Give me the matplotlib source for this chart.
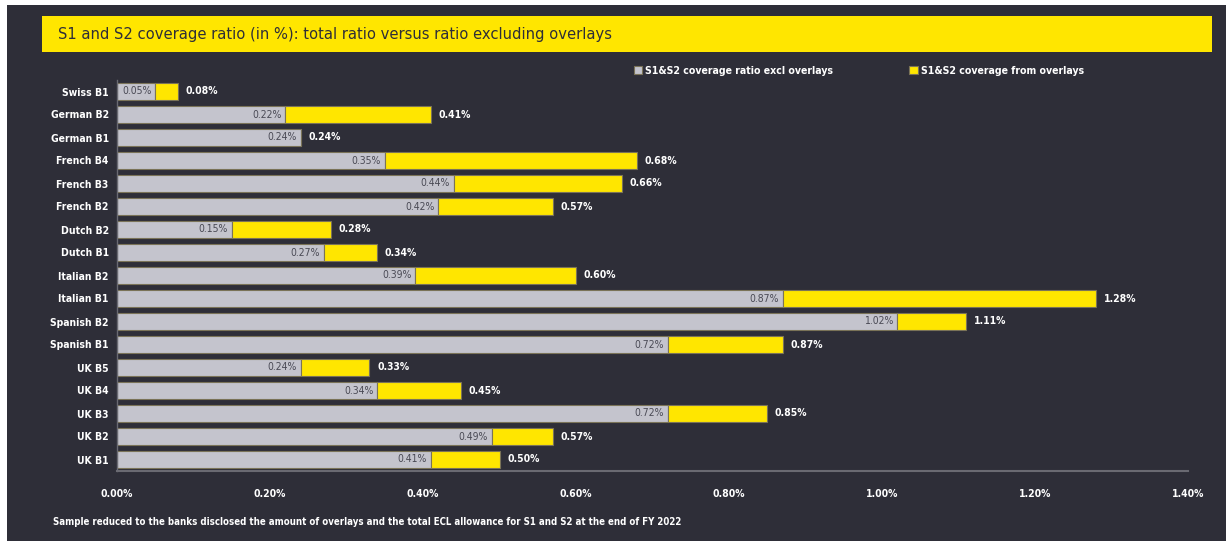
import matplotlib
matplotlib.use("Agg")
import matplotlib.pyplot as plt
import numpy as np
from matplotlib.patches import Rectangle

banks = ["Swiss B1", "German B2", "German B1", "French B4", "French B3", "French B2",
         "Dutch B2", "Dutch B1", "Italian B2", "Italian B1", "Spanish B2", "Spanish B1",
         "UK B5", "UK B4", "UK B3", "UK B2", "UK B1"]
excl_overlays = [0.05, 0.22, 0.24, 0.35, 0.44, 0.42, 0.15, 0.27, 0.39, 0.87, 1.02, 0.72,
                 0.24, 0.34, 0.72, 0.49, 0.41]
total_ratio = [0.08, 0.41, 0.24, 0.68, 0.66, 0.57, 0.28, 0.34, 0.60, 1.28, 1.11, 0.87,
               0.33, 0.45, 0.85, 0.57, 0.50]
x_ticks = [0.0, 0.2, 0.4, 0.6, 0.8, 1.0, 1.2, 1.4]

BG = "#2e2e38"
YEL = "#ffe600"
GREY = "#c4c4cd"
FONT = ["DejaVu Sans Condensed", "DejaVu Sans"]
plt.rcParams["font.family"] = FONT
plt.rcParams["font.stretch"] = "condensed"

excl = np.array(excl_overlays)
tot = np.array(total_ratio)
overlay = tot - excl
y = np.arange(len(banks))

fig = plt.figure(figsize=(12.26, 5.41), dpi=100, facecolor="white")
# dark panel, leaving thin white strip on top/left
fig.patches.append(Rectangle((7 / 1226, 0), 1, 1 - 5 / 541, transform=fig.transFigure,
                             facecolor=BG, edgecolor="none", zorder=-10))
# title box
fig.patches.append(Rectangle((42 / 1226, 1 - 52 / 541), (1212 - 42) / 1226, 36 / 541,
                             transform=fig.transFigure, facecolor=YEL, edgecolor="none", zorder=-5))
fig.text(58 / 1226, 1 - 34 / 541, "S1 and S2 coverage ratio (in %): total ratio versus ratio excluding overlays",
         color=BG, fontsize=11.8, va="center", ha="left")

ax = fig.add_axes([117 / 1226, 1 - 471 / 541, (1188 - 117) / 1226, (471 - 80) / 541])
ax.set_facecolor(BG)

ax.barh(y, excl, height=0.72, color=GREY, edgecolor="#7a7358", linewidth=0.8,
        label="S1&S2 coverage ratio excl overlays")
ax.barh(y, overlay, left=excl, height=0.72, color=YEL, edgecolor="#7a7358", linewidth=0.8,
        label="S1&S2 coverage from overlays")

for i in range(len(banks)):
    ax.text(excl[i] - 0.005, y[i], f"{excl[i]:.2f}%", ha="right", va="center",
            color="#4a4a55", fontsize=7.5)
    ax.text(tot[i] + 0.01, y[i], f"{tot[i]:.2f}%", ha="left", va="center",
            color="white", fontsize=7.5, fontweight="bold")

ax.set_ylim(len(banks) - 0.5, -0.5)
ax.set_xlim(0, 1.4)
ax.set_yticks(y)
ax.set_yticklabels(banks, color="white", fontsize=7.5, fontweight="bold")
ax.set_xticks(x_ticks)
ax.set_xticklabels([f"{v:.2f}%" for v in x_ticks], color="white", fontsize=7.5, fontweight="bold")
ax.tick_params(axis="both", length=0)
ax.tick_params(axis="x", pad=13)
ax.tick_params(axis="y", pad=6)
for s in ["top", "right"]:
    ax.spines[s].set_visible(False)
ax.spines["bottom"].set_color("#6a6a72")
ax.spines["bottom"].set_linewidth(1.5)
ax.spines["left"].set_color("#6a6a72")
ax.spines["left"].set_linewidth(1)

leg = fig.legend(loc="center left", bbox_to_anchor=(624 / 1226, 1 - 71 / 541), ncol=2,
                 frameon=False, handlelength=0.8, handleheight=0.8, handletextpad=0.3,
                 columnspacing=7.2, prop={"size": 7.6, "weight": "bold", "family": FONT,
                                          "stretch": "condensed"})
for t in leg.get_texts():
    t.set_color("white")

fig.text(53 / 1226, 1 - 522 / 541,
         "Sample reduced to the banks disclosed the amount of overlays and the total ECL allowance for S1 and S2 at the end of FY 2022",
         color="white", fontsize=6.9, fontweight="bold", va="center", ha="left")

fig.savefig("out.png", dpi=100, facecolor=fig.get_facecolor())
